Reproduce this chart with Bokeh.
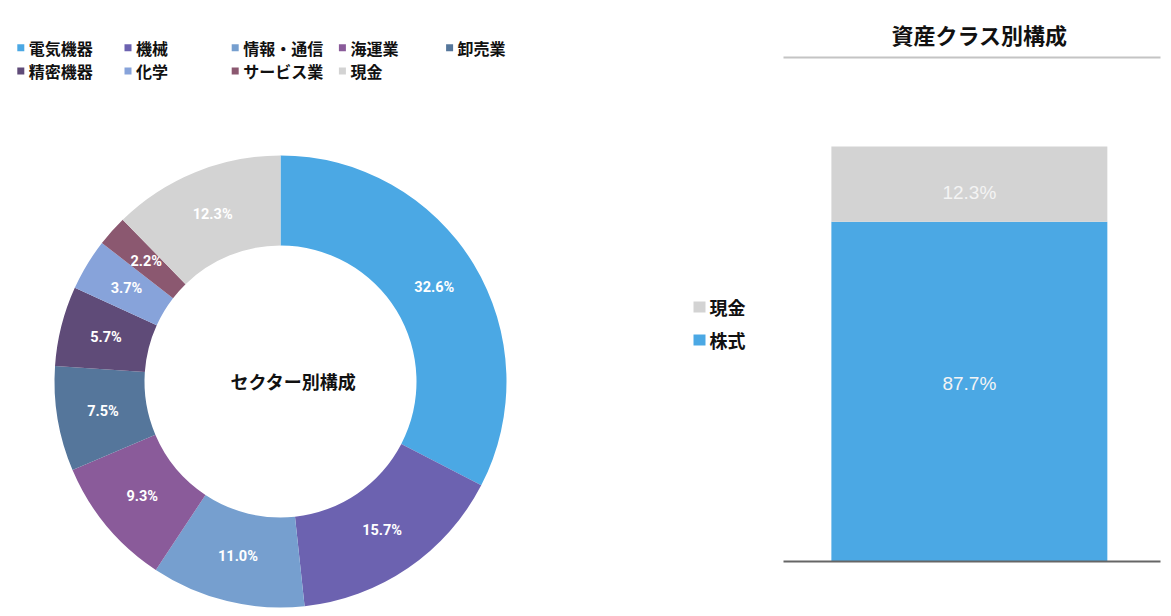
import numpy as np
from bokeh.plotting import figure
from bokeh.models import Range1d, ColumnDataSource, LinearAxis, FixedTicker
from bokeh.layouts import row
from bokeh.core.properties import value
from bokeh.embed import file_html
from bokeh.resources import INLINE

# ---------------- data ----------------
sectors = ["電気機器", "機械", "情報・通信", "海運業", "卸売業", "精密機器", "化学", "サービス業", "現金"]
sector_weights = [32.6, 15.7, 11.0, 9.3, 7.5, 5.7, 3.7, 2.2, 12.3]
sector_colors = ["#4BA8E4", "#6C62B0", "#769FCF", "#8A5B9A", "#55769B",
                 "#5F4B78", "#87A3DA", "#8B5870", "#D3D3D3"]
donut_title = "セクター別構成"

asset_classes = ["株式", "現金"]
asset_weights = [87.7, 12.3]
asset_colors = ["#4BA8E4", "#D3D3D3"]
asset_title = "資産クラス別構成"
asset_axis_min = 32.0
asset_axis_max = 114.6

JP = "Noto Sans CJK JP"
NUM = "Roboto"

W_LEFT, W_RIGHT, H = 775, 396, 616

# ---------------- left: donut + legends ----------------
left = figure(width=W_LEFT, height=H, x_range=Range1d(0, W_LEFT), y_range=Range1d(0, H),
              output_backend="svg", toolbar_location=None, min_border=0)
left.frame_align = False
left.axis.visible = False
left.grid.visible = False
left.outline_line_color = None

cx, cy = 280, 235
r_in, r_out, r_lab = 136, 226, 180
frac = np.array(sector_weights) / sum(sector_weights)
cum = np.concatenate([[0.0], np.cumsum(frac)])
start = np.pi / 2 - 2 * np.pi * cum[:-1]
end = np.pi / 2 - 2 * np.pi * cum[1:]
mid = (start + end) / 2

src = ColumnDataSource(dict(start=start, end=end, color=sector_colors,
                            lx=cx + r_lab * np.cos(mid), ly=cy + r_lab * np.sin(mid),
                            lab=[f"{w:.1f}%" for w in sector_weights]))
left.annular_wedge(x=cx, y=cy, inner_radius=r_in, outer_radius=r_out,
                   start_angle="start", end_angle="end", direction="clock",
                   fill_color="color", line_color=None, source=src)
left.text(x="lx", y="ly", text="lab", source=src, text_color="white",
          text_font=value(NUM), text_font_style="bold", text_font_size="14.5px",
          text_align="center", text_baseline="middle")
left.text(x=[cx + 13], y=[cy + 1], text=[donut_title], text_color="#111111",
          text_font=value(JP), text_font_style="bold", text_font_size="18px",
          text_align="center", text_baseline="middle")

# sector legend grid (5 columns)
ncol = 5
col = np.arange(len(sectors)) % ncol
rw = np.arange(len(sectors)) // ncol
leg = ColumnDataSource(dict(sx=20.3 + col * 107.2, tx=28.3 + col * 107.2,
                            y=568.8 - rw * 23.3, name=sectors, color=sector_colors))
left.rect(x="sx", y="y", width=7, height=7, fill_color="color", line_color=None, source=leg)
left.text(x="tx", y="y", text="name", source=leg, text_color="#111111",
          text_font=value(JP), text_font_style="bold", text_font_size="16px",
          text_align="left", text_baseline="middle")

# asset-class legend (belongs to the bar chart on the right; 現金 listed first)
aleg = ColumnDataSource(dict(sx=[699, 699], tx=[709, 709], y=[309.5, 276.5],
                             name=[asset_classes[1], asset_classes[0]],
                             color=[asset_colors[1], asset_colors[0]]))
left.rect(x="sx", y="y", width=12, height=11, fill_color="color", line_color=None, source=aleg)
left.text(x="tx", y="y", text="name", source=aleg, text_color="#111111",
          text_font=value(JP), text_font_style="bold", text_font_size="18px",
          text_align="left", text_baseline="middle")

# ---------------- right: stacked bar ----------------
right = figure(width=W_RIGHT, height=H, x_range=Range1d(0, 1),
               y_range=Range1d(asset_axis_min, asset_axis_max),
               output_backend="svg", toolbar_location=None, x_axis_location=None,
               y_axis_location=None,
               min_border_left=8, min_border_right=11, min_border_top=57, min_border_bottom=55)
right.frame_align = False
right.grid.visible = False
right.outline_line_color = None

bottom_axis = LinearAxis(ticker=FixedTicker(ticks=[]), major_tick_line_color=None,
                         minor_tick_line_color=None, axis_line_color="#666666",
                         axis_line_width=2)
right.add_layout(bottom_axis, "below")
top_axis = LinearAxis(ticker=FixedTicker(ticks=[]), major_tick_line_color=None,
                      minor_tick_line_color=None, axis_line_color="#C4C4C4",
                      axis_line_width=2)
right.add_layout(top_axis, "above")

right.title.text = asset_title
right.title.align = "left"
right.title.offset = 108
right.title.standoff = 15
right.title.text_font = JP
right.title.text_font_size = "22px"
right.title.text_font_style = "bold"
right.title.text_color = "#111111"

bar_x = 0.493
bsrc = ColumnDataSource({"x": [bar_x],
                         asset_classes[0]: [asset_weights[0]],
                         asset_classes[1]: [asset_weights[1]]})
right.vbar_stack(asset_classes, x="x", width=0.732, color=asset_colors,
                 line_color=None, source=bsrc)

stock, cash = asset_weights
lab_y = [(asset_axis_min + stock) / 2, stock + cash / 2]
right.text(x=[bar_x, bar_x], y=lab_y,
           text=[f"{stock:.1f}%", f"{cash:.1f}%"], y_offset=[-8, 8],
           text_color="#F4F4F4", text_font=value("Liberation Sans"), text_font_size="19px",
           text_align="center", text_baseline="middle")

layout = row(left, right)
open("out.html", "w").write(file_html(layout, INLINE))
